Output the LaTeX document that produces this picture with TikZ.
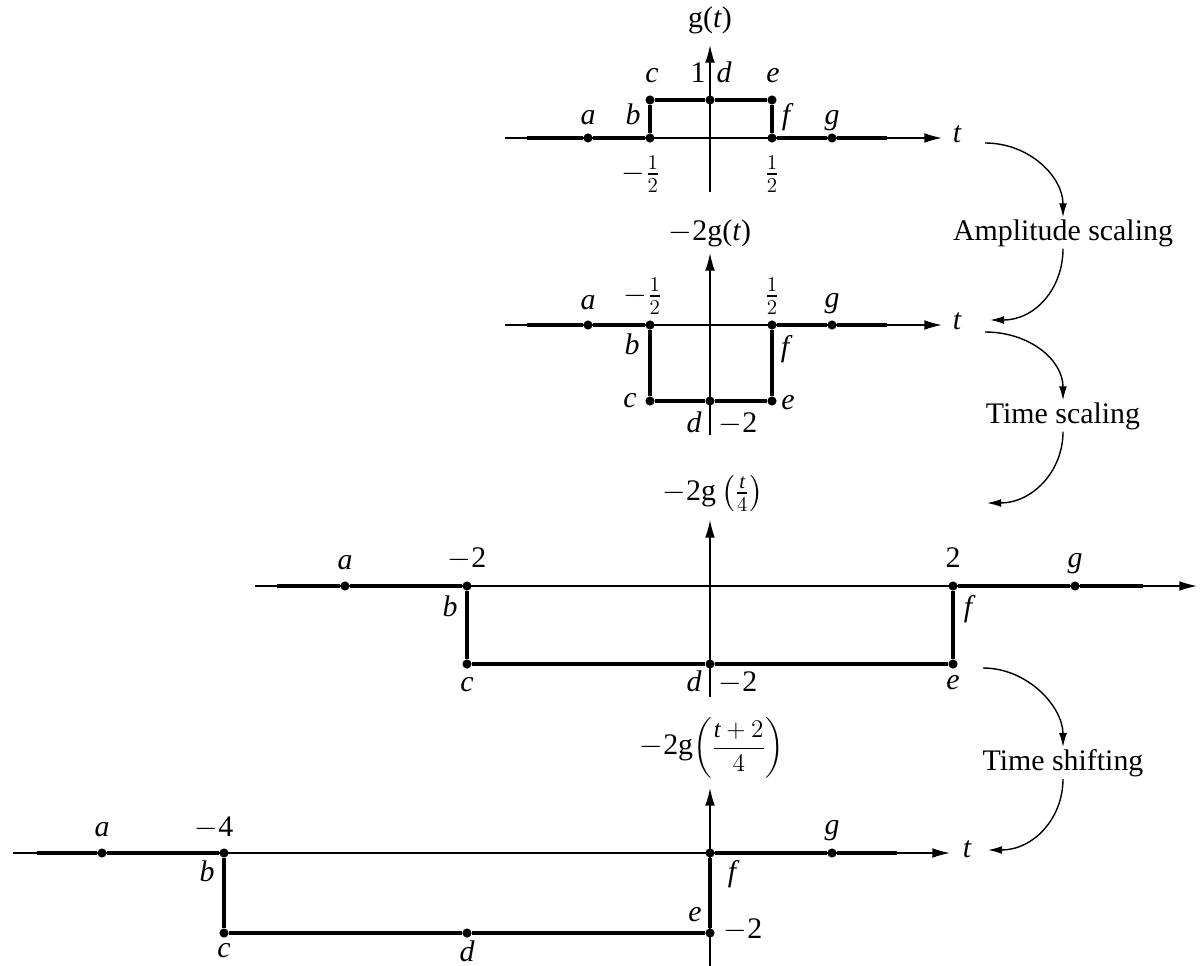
\documentclass[tikz,border=0pt]{standalone}
\usepackage{amsmath}
\usepackage{fontspec}
\setmainfont{Liberation Serif}
\usepackage{tikz}
\usetikzlibrary{arrows.meta}
\newcommand{\vt}{\textit{t}}

\begin{document}
\begin{tikzpicture}
[x=0.02cm, y=-0.02cm,
dot/.style ={circle, fill=black, inner sep=0pt, minimum size=5.2pt},
lab/.style ={inner sep=0pt, font=\fontsize{17}{20}\selectfont},
tag/.style ={lab, text height=1.5ex, text depth=0.3ex},
itag/.style ={tag, font=\fontsize{17}{20}\selectfont\itshape},
op/.style ={inner sep=1pt, font=\fontsize{17}{20}\selectfont},
axis/.style ={draw, line width=0.8pt, -{Latex[length=10pt, width=5.5pt]}},
sig/.style ={draw, line width=2.2pt},
curl/.style ={draw, line width=0.8pt, -{Latex[length=8pt, width=4.5pt]}}]
\useasboundingbox (0, 0) rectangle (1203, 966);

% g(t)
\coordinate (xl1) at (505, 138);
\coordinate (xr1) at (942, 138);
\coordinate (yb1) at (710, 192);
\coordinate (yt1) at (710, 45);
\coordinate (sl1) at (527, 138);
\coordinate (sr1) at (887, 138);
\draw (588, 138) node[dot] (a1) {};
\draw (650, 138) node[dot] (b1) {};
\draw (650, 100) node[dot] (c1) {};
\draw (710, 100) node[dot] (d1) {};
\draw (772, 100) node[dot] (e1) {};
\draw (772, 138) node[dot] (f1) {};
\draw (832, 138) node[dot] (g1) {};
\draw[axis] (xl1) -- (xr1);
\draw[axis] (yb1) -- (yt1);
\draw[sig] (sl1) -- (a1) -- (b1) -- (c1) -- (d1) -- (e1) -- (f1) -- (g1) -- (sr1);
\draw (710, 20) node[lab] (name1) {g(\vt)};
\draw (698, 78) node[tag] (one1) {1};
\draw (652, 78) node[itag] (lc1) {c};
\draw (724, 78) node[itag] (ld1) {d};
\draw (773, 78) node[itag] (le1) {e};
\draw (588, 120) node[itag] (la1) {a};
\draw (633, 120) node[itag] (lb1) {b};
\draw (786, 120) node[itag] (lf1) {f};
\draw (832, 120) node[itag] (lg1) {g};
\draw (641, 174) node[lab] (lo1) {$-\frac{1}{2}$};
\draw (772, 174) node[lab] (hi1) {$\frac{1}{2}$};
\draw (957, 138) node[itag] (t1) {t};

% -2g(t)
\coordinate (xl2) at (505, 325);
\coordinate (xr2) at (942, 325);
\coordinate (yb2) at (710, 435);
\coordinate (yt2) at (710, 253);
\coordinate (sl2) at (527, 325);
\coordinate (sr2) at (887, 325);
\draw (588, 325) node[dot] (a2) {};
\draw (650, 325) node[dot] (b2) {};
\draw (650, 401) node[dot] (c2) {};
\draw (710, 401) node[dot] (d2) {};
\draw (772, 401) node[dot] (e2) {};
\draw (772, 325) node[dot] (f2) {};
\draw (832, 325) node[dot] (g2) {};
\draw[axis] (xl2) -- (xr2);
\draw[axis] (yb2) -- (yt2);
\draw[sig] (sl2) -- (a2) -- (b2) -- (c2) -- (d2) -- (e2) -- (f2) -- (g2) -- (sr2);
\draw (710, 233) node[lab] (name2) {$-$2g(\vt)};
\draw (588, 305) node[itag] (la2) {a};
\draw (643, 296) node[lab] (lo2) {$-\frac{1}{2}$};
\draw (772, 296) node[lab] (hi2) {$\frac{1}{2}$};
\draw (832, 303) node[itag] (lg2) {g};
\draw (632, 350) node[itag] (lb2) {b};
\draw (785, 352) node[itag] (lf2) {f};
\draw (630, 403) node[itag] (lc2) {c};
\draw (788, 405) node[itag] (le2) {e};
\draw (694, 428) node[itag] (ld2) {d};
\draw (738, 428) node[tag] (mn2) {$-$2};
\draw (957, 325) node[itag] (t2) {t};

% -2g(t/4)
\coordinate (xl3) at (255, 586);
\coordinate (xr3) at (1197, 586);
\coordinate (yb3) at (710, 697);
\coordinate (yt3) at (710, 520);
\coordinate (sl3) at (277, 586);
\coordinate (sr3) at (1143, 586);
\draw (345, 586) node[dot] (a3) {};
\draw (467, 586) node[dot] (b3) {};
\draw (467, 664) node[dot] (c3) {};
\draw (710, 664) node[dot] (d3) {};
\draw (953, 664) node[dot] (e3) {};
\draw (953, 586) node[dot] (f3) {};
\draw (1075, 586) node[dot] (g3) {};
\draw[axis] (xl3) -- (xr3);
\draw[axis] (yb3) -- (yt3);
\draw[sig] (sl3) -- (a3) -- (b3) -- (c3) -- (d3) -- (e3) -- (f3) -- (g3) -- (sr3);
\draw (713, 493) node[lab] (name3) {$-$2g\,$\left(\frac{\vt}{4}\right)$};
\draw (345, 565) node[itag] (la3) {a};
\draw (467, 563) node[tag] (lo3) {$-$2};
\draw (953, 563) node[tag] (hi3) {2};
\draw (1075, 563) node[itag] (lg3) {g};
\draw (450, 612) node[itag] (lb3) {b};
\draw (968, 612) node[itag] (lf3) {f};
\draw (467, 687) node[itag] (lc3) {c};
\draw (694, 687) node[itag] (ld3) {d};
\draw (738, 687) node[tag] (mn3) {$-$2};
\draw (953, 685) node[itag] (le3) {e};

% -2g((t+2)/4)
\coordinate (xl4) at (13, 853);
\coordinate (xr4) at (950, 853);
\coordinate (yb4) at (710, 966);
\coordinate (yt4) at (710, 788);
\coordinate (sl4) at (37, 853);
\coordinate (sr4) at (897, 853);
\draw (102, 853) node[dot] (a4) {};
\draw (224, 853) node[dot] (b4) {};
\draw (224, 933) node[dot] (c4) {};
\draw (467, 933) node[dot] (d4) {};
\draw (710, 933) node[dot] (e4) {};
\draw (710, 853) node[dot] (f4) {};
\draw (832, 853) node[dot] (g4) {};
\draw[axis] (xl4) -- (xr4);
\draw[axis] (yb4) -- (yt4);
\draw[sig] (sl4) -- (a4) -- (b4) -- (c4) -- (d4) -- (e4) -- (f4) -- (g4) -- (sr4);
\draw (712, 748) node[lab] (name4) {$-$2g{\fontsize{14}{16}\selectfont$\left(\dfrac{\vt+2}{4}\right)$}};
\draw (102, 832) node[itag] (la4) {a};
\draw (214, 832) node[tag] (lo4) {$-$4};
\draw (832, 830) node[itag] (lg4) {g};
\draw (207, 877) node[itag] (lb4) {b};
\draw (732, 877) node[itag] (lf4) {f};
\draw (695, 917) node[itag] (le4) {e};
\draw (743, 934) node[tag] (mn4) {$-$2};
\draw (224, 953) node[itag] (lc4) {c};
\draw (467, 957) node[itag] (ld4) {d};
\draw (967, 853) node[itag] (t4) {t};

% operations
\draw (1063, 233) node[op] (amp) {Amplitude scaling};
\draw (1063, 416) node[op] (tsc) {Time scaling};
\draw (1063, 763) node[op] (tsh) {Time shifting};
\coordinate (u1) at (985, 143);
\coordinate (u2) at (990, 320);
\coordinate (u3) at (985, 332);
\coordinate (u4) at (987, 503);
\coordinate (u5) at (983, 668);
\coordinate (u6) at (988, 850);
\draw[curl] (u1) .. controls +(45, 0) and +(0, -40) .. (amp.north);
\draw[curl] (amp.south) .. controls +(0, 40) and +(45, 0) .. (u2);
\draw[curl] (u3) .. controls +(45, 0) and +(0, -40) .. (tsc.north);
\draw[curl] (tsc.south) .. controls +(0, 40) and +(45, 0) .. (u4);
\draw[curl] (u5) .. controls +(45, 0) and +(0, -40) .. (tsh.north);
\draw[curl] (tsh.south) .. controls +(0, 40) and +(45, 0) .. (u6);
\end{tikzpicture}
\end{document}
